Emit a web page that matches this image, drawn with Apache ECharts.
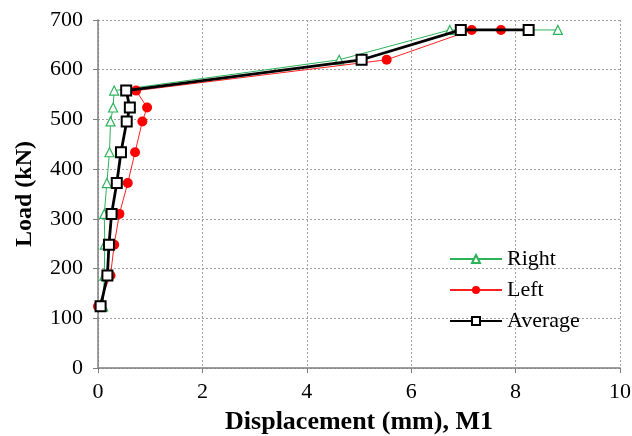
<!DOCTYPE html>
<html><head><meta charset="utf-8">
<script src="https://cdn.jsdelivr.net/npm/echarts@6/dist/echarts.min.js"></script>
<style>html,body{margin:0;padding:0;background:#fff}#c{width:632px;height:436px}</style>
</head><body><div id="c"></div>
<script>
const loads = [124, 186, 248, 310, 372, 434, 496, 524, 558, 620, 680, 680];
const rightDisp = [0.10, 0.12, 0.13, 0.12, 0.17, 0.22, 0.24, 0.29, 0.31, 4.62, 6.74, 8.81];
const leftDisp = [0.00, 0.24, 0.31, 0.41, 0.57, 0.71, 0.85, 0.94, 0.73, 5.53, 7.16, 7.72];
const avgDisp = [0.05, 0.18, 0.21, 0.26, 0.36, 0.44, 0.55, 0.61, 0.54, 5.05, 6.95, 8.25];
const xTicks = [0, 2, 4, 6, 8, 10];
const yTicks = [0, 100, 200, 300, 400, 500, 600, 700];

const pair = d => d.map((x, i) => [x, loads[i]]);
const font = '"Liberation Serif", "DejaVu Serif", serif';
const chart = echarts.init(document.getElementById('c'));
chart.setOption({
  animation: false,
  textStyle: { fontFamily: font },
  grid: { left: 98, right: 12, top: 20, bottom: 68, show: false, containLabel: false, outerBoundsMode: 'none' },
  legend: {
    orient: 'vertical', left: 444, top: 243, itemWidth: 52, itemHeight: 10, itemGap: 9,
    textStyle: { fontFamily: font, fontSize: 22, color: '#000' },
    data: ['Right', 'Left', 'Average']
  },
  xAxis: {
    type: 'value', min: 0, max: 10, interval: 2,
    name: 'Displacement (mm), M1', nameLocation: 'middle', nameGap: 41,
    nameTextStyle: { fontFamily: font, fontSize: 26, fontWeight: 'bold', color: '#000' },
    axisLine: { lineStyle: { color: '#7f7f7f', width: 1.5 } },
    axisTick: { show: true, inside: false, length: 5, lineStyle: { color: '#7f7f7f' } },
    axisLabel: { fontFamily: font, fontSize: 22, color: '#000', margin: 13,
      formatter: v => xTicks.includes(v) ? String(v) : '' },
    splitLine: { show: true, lineStyle: { color: '#a0a0a0', type: [2, 2], width: 1 } }
  },
  yAxis: {
    type: 'value', min: 0, max: 700, interval: 100,
    name: 'Load (kN)', nameLocation: 'middle', nameGap: 61,
    nameTextStyle: { fontFamily: font, fontSize: 24, fontWeight: 'bold', color: '#000' },
    axisLine: { show: true, lineStyle: { color: '#7f7f7f', width: 1.5 } },
    axisTick: { show: true, length: 5, lineStyle: { color: '#7f7f7f' } },
    axisLabel: { fontFamily: font, fontSize: 22, color: '#000', margin: 15,
      formatter: v => yTicks.includes(v) ? String(v) : '' },
    splitLine: { show: true, lineStyle: { color: '#a0a0a0', type: [2, 2], width: 1 } }
  },
  series: [
    { name: 'Right', type: 'line', data: pair(rightDisp), symbol: 'triangle', symbolSize: 9,
      lineStyle: { color: '#2db25a', width: 1 },
      itemStyle: { color: '#fff', borderColor: '#2db25a', borderWidth: 1.2 }, z: 2 },
    { name: 'Left', type: 'line', data: pair(leftDisp), symbol: 'circle', symbolSize: 10,
      lineStyle: { color: '#ff2020', width: 1 },
      itemStyle: { color: '#ff0000', borderColor: '#ff0000', borderWidth: 0 }, z: 3 },
    { name: 'Average', type: 'line', data: pair(avgDisp), symbol: 'rect', symbolSize: 10,
      lineStyle: { color: '#000', width: 2.8 },
      itemStyle: { color: '#fff', borderColor: '#000', borderWidth: 2 }, z: 4 }
  ]
});
</script></body></html>
